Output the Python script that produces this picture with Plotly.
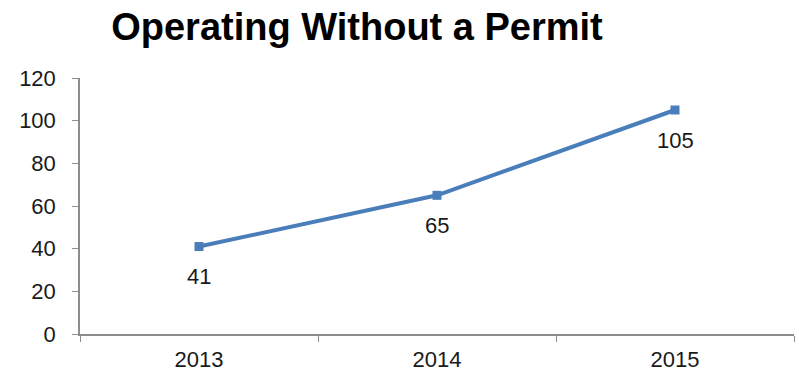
import plotly.graph_objects as go

years = ['2013', '2014', '2015']
counts = [41, 65, 105]
y_ticks = [0, 20, 40, 60, 80, 100, 120]

line_color = '#4a7ebb'
axis_color = '#8c8c8c'
text_color = '#1a1a1a'
font_family = 'Liberation Sans, Arial, sans-serif'

fig = go.Figure()
fig.add_trace(go.Scatter(
    x=years,
    y=counts,
    mode='lines+markers',
    line=dict(width=4, color=line_color),
    marker=dict(symbol='square', size=9, color=line_color),
    hoverinfo='skip'
))

# value labels under each point (category index used as x)
for i, val in enumerate(counts):
    fig.add_annotation(
        x=i, y=val, text=str(val), showarrow=False,
        yshift=-30, font=dict(size=22, color=text_color, family=font_family)
    )

fig.update_xaxes(
    type='category',
    range=[-0.5, 2.5],
    tickson='boundaries',
    ticks='outside',
    ticklen=6,
    tickcolor=axis_color,
    showline=True,
    linecolor=axis_color,
    linewidth=1.5,
    showgrid=False,
    automargin=False,
    ticklabelstandoff=5,
    tickfont=dict(size=22, color=text_color, family=font_family)
)
fig.update_yaxes(
    range=[0, 120],
    tickvals=y_ticks,
    ticks='outside',
    ticklen=6,
    tickcolor=axis_color,
    showline=True,
    linecolor=axis_color,
    linewidth=1.5,
    showgrid=False,
    zeroline=False,
    automargin=False,
    ticklabelstandoff=12,
    tickfont=dict(size=22, color=text_color, family=font_family)
)

fig.update_layout(
    width=799,
    height=371,
    showlegend=False,
    plot_bgcolor='white',
    paper_bgcolor='white',
    margin=dict(l=80, r=5, t=78, b=37),
    title=dict(
        text='<b>Operating Without a Permit</b>',
        x=357 / 799, xanchor='center',
        y=1 - 27 / 371, yanchor='middle',
        font=dict(size=38, color='black', family=font_family)
    )
)

fig.write_html('out.html', config={'displayModeBar': False},
               post_script="document.body.style.margin='0';")
